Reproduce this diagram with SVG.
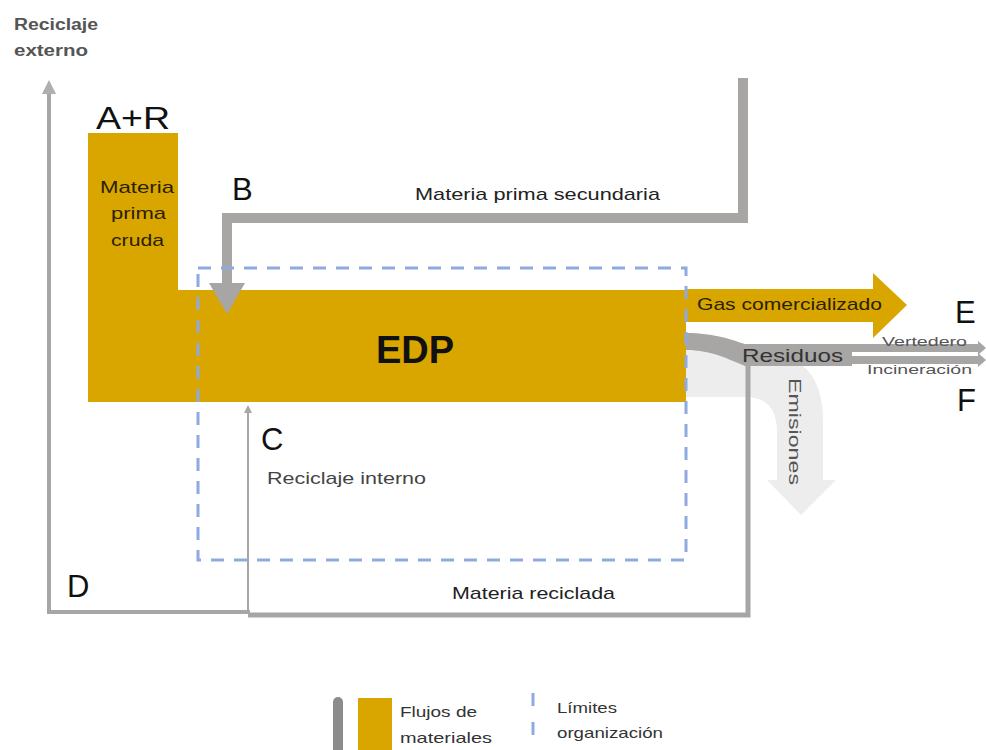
<svg xmlns="http://www.w3.org/2000/svg" width="986" height="750" viewBox="0 0 986 750">
<style>
.gold{fill:#D9A600}
.gray{fill:#A8A5A5}
.gline{fill:none;stroke:#A8A5A5;stroke-linejoin:miter}
.dash{fill:none;stroke:#8EAAE0;stroke-width:3;stroke-dasharray:13 10}
.t{font-family:"Liberation Sans",Arial,sans-serif}
.big{font-size:31px;fill:#111}
.lbl{font-size:17px;fill:#222}
.sub{font-size:16px;fill:#555;font-weight:bold}
.leg{font-size:15px;fill:#333}
.raw{font-size:17px;fill:#2b2100}
</style>
<rect width="986" height="750" fill="#fff"/>

<g id="emisiones">
<path d="M686,350 L750,350 Q823,350 823,420 L823,480 L836,480 L801,515 L767,480 L777,480 L777,432 Q777,397 745,397 L686,397 Z" fill="#EDEDED"/>
<text class="t" transform="translate(789,378) rotate(90)" font-size="17" fill="#555" textLength="107" lengthAdjust="spacingAndGlyphs">Emisiones</text>
</g>

<g id="edp">
<path class="gold" d="M88,133 L178,133 L178,290 L686,290 L686,402 L88,402 Z"/>
<text class="t" x="415" y="363" text-anchor="middle" font-size="38" font-weight="bold" fill="#111">EDP</text>
</g>

<g id="gas">
<path class="gold" d="M686,289 L873,289 L873,273 L907,305 L873,338 L873,322 L686,322 Z"/>
<text class="t" x="697" y="310" font-size="17" fill="#2b2100" textLength="185" lengthAdjust="spacingAndGlyphs">Gas comercializado</text>
</g>

<g id="connectors">
<path class="gline" stroke-width="10" d="M743,78 L743,218 L227,218 L227,285"/>
<polygon class="gray" points="209,283 245,283 227,314"/>
<path class="gline" stroke-width="4" stroke="#B0AEAE" d="M49,612 L49,92"/>
<polygon points="42,94 56,94 49,80" fill="#B0AEAE"/>
<path class="gline" stroke-width="4" d="M47,612 L250,612"/>
<path class="gline" stroke-width="5" d="M248,615 L748,615 L748,360"/>
<path class="gline" stroke-width="2" d="M248,614 L248,412"/>
<polygon class="gray" points="244,413 252,413 248,405"/>
<path class="gray" d="M686,333 C715,333 732,340 745,344 L852,344 L852,366 L745,366 C730,360 712,350 686,350 Z"/>
<path class="gray" d="M852,344 L978,344 L978,341 L986,348 L978,355 L978,352 L852,352 Z"/>
<path class="gray" d="M852,356 L978,356 L978,353 L986,360 L978,367 L978,364 L852,364 Z"/>
</g>

<g id="limites">
<rect class="dash" x="198" y="268" width="488" height="292"/>
</g>

<g id="labels">
<text class="t sub" x="14" y="30" textLength="84" lengthAdjust="spacingAndGlyphs">Reciclaje</text>
<text class="t sub" x="14" y="56" textLength="74" lengthAdjust="spacingAndGlyphs">externo</text>
<text class="t big" x="96" y="129" textLength="74" lengthAdjust="spacingAndGlyphs">A+R</text>
<text class="t raw" x="100" y="193" textLength="74" lengthAdjust="spacingAndGlyphs">Materia</text>
<text class="t raw" x="111" y="219" textLength="55" lengthAdjust="spacingAndGlyphs">prima</text>
<text class="t raw" x="111" y="246" textLength="53" lengthAdjust="spacingAndGlyphs">cruda</text>
<text class="t big" x="232" y="200">B</text>
<text class="t lbl" x="415" y="200" textLength="245" lengthAdjust="spacingAndGlyphs">Materia prima secundaria</text>
<text class="t big" x="261" y="450">C</text>
<text class="t" x="267" y="484" font-size="17" fill="#444" textLength="159" lengthAdjust="spacingAndGlyphs">Reciclaje interno</text>
<text class="t big" x="67" y="597">D</text>
<text class="t lbl" x="452" y="599" textLength="163" lengthAdjust="spacingAndGlyphs">Materia reciclada</text>
<text class="t" x="742" y="362" font-size="18" fill="#333" textLength="101" lengthAdjust="spacingAndGlyphs">Residuos</text>
<text class="t" x="882" y="346" font-size="13" fill="#555" textLength="85" lengthAdjust="spacingAndGlyphs">Vertedero</text>
<text class="t" x="867" y="374" font-size="13" fill="#555" textLength="105" lengthAdjust="spacingAndGlyphs">Incineración</text>
<text class="t big" x="955" y="323">E</text>
<text class="t big" x="957" y="411">F</text>
</g>

<g id="leyenda">
<rect x="333" y="697" width="10" height="60" rx="5" fill="#8C8C8C"/>
<rect x="358" y="698" width="34" height="52" fill="#D9A600"/>
<text class="t leg" x="400" y="717" textLength="77" lengthAdjust="spacingAndGlyphs">Flujos de</text>
<text class="t leg" x="400" y="743" textLength="92" lengthAdjust="spacingAndGlyphs">materiales</text>
<line x1="533" y1="693" x2="533" y2="706" stroke="#8EAAE0" stroke-width="3"/>
<line x1="533" y1="722" x2="533" y2="735" stroke="#8EAAE0" stroke-width="3"/>
<text class="t leg" x="557" y="713" textLength="60" lengthAdjust="spacingAndGlyphs">Límites</text>
<text class="t leg" x="557" y="738" textLength="106" lengthAdjust="spacingAndGlyphs">organización</text>
</g>
</svg>
